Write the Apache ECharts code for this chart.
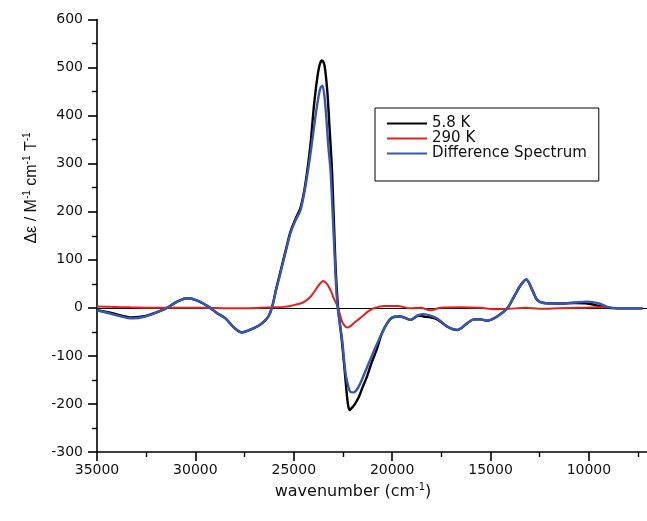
<!DOCTYPE html>
<html>
<head>
<meta charset="utf-8">
<script src="https://cdn.jsdelivr.net/npm/echarts@6/dist/echarts.min.js"></script>
<style>
html,body{margin:0;padding:0;background:#fff;}
#chart{width:647px;height:521px;}
</style>
</head>
<body>
<div id="chart"></div>
<script>
// ---- data (wavenumber in cm^-1, Δε in M^-1 cm^-1 T^-1) ----
const seriesNames = ['5.8 K', '290 K', 'Difference Spectrum'];

const k58Wavenumber = [35000,34320,33220,32540,31690,31440,30970,30420,29900,29320,28930,28470,28070,27660,27300,26860,26530,26290,26100,25880,25680,25420,25170,24910,24660,24410,24150,23980,23800,23670,23560,23440,23300,23190,23050,22880,22750,22540,22370,22250,22160,22070,21920,21700,21510,21270,21050,20760,20540,20250,19980,19570,19070,18660,18390,18050,17710,17200,16690,16180,15850,15500,15160,14660,14150,13810,13470,13180,12880,12620,12290,11440,10760,10080,9490,9060,8550,7710,7280];
const k58Values = [-5,-10,-20,-17,-5,0,12,20,15,2,-10,-22,-40,-51,-47,-39,-29,-18,2,42,75,118,158,185,208,258,340,418,480,508,515,505,453,380,280,90,2,-75,-150,-200,-213,-209,-202,-186,-166,-142,-115,-84,-55,-32,-20,-18,-25,-16,-18,-20,-24,-39,-46,-32,-24,-24,-27,-18,-1,23,47,59,37,16,10,9,10,9,4,0,-1,-1,-1];

const k290Wavenumber = [35000,34320,33310,31780,29750,28220,26690,25930,25510,25070,24660,24410,24150,23900,23730,23510,23360,23220,23080,22970,22850,22760,22680,22540,22420,22290,22120,21950,21710,21440,21200,20930,20420,19740,19070,18560,18050,17540,16520,15500,14830,14070,13220,12540,11520,10510,9490,8960];
const k290Values = [3,2,1,0,0,-1,0,1,2,5,9,14,23,37,47,56,52,44,32,20,10,2,-10,-29,-37,-41,-38,-32,-24,-15,-7,-1,4,4,-1,0,-5,0,1,0,-3,-2,0,-2,-1,0,1,1];

const diffWavenumber = [35000,34320,33220,32540,31690,31440,30970,30420,29900,29320,28930,28470,28070,27660,27300,26860,26530,26290,26100,25880,25680,25420,25170,24910,24660,24410,24150,23900,23740,23640,23540,23390,23240,23130,22970,22790,22540,22370,22220,22120,21960,21700,21270,20760,20250,19980,19570,19070,18660,18390,18050,17710,17200,16690,16180,15850,15500,15160,14660,14150,13810,13470,13180,12880,12620,12290,11440,10760,10080,9490,9060,8550,7710,7280];
const diffValues = [-5,-12,-22,-18,-5,0,12,20,15,2,-10,-22,-40,-51,-47,-39,-29,-18,2,40,72,115,155,182,203,252,321,398,440,458,462,418,335,285,150,9,-67,-136,-165,-175,-176,-164,-123,-74,-32,-20,-18,-25,-15,-13,-16,-22,-39,-46,-32,-24,-24,-27,-18,-1,23,47,59,37,16,10,9,11,13,9,2,-1,-1,-1];

const xAxisMin = 5000, xAxisMax = 35000, xInterval = 5000;
const yAxisMin = -300, yAxisMax = 600, yInterval = 100;

function pairs(xs, ys) { return xs.map((x, i) => [x, ys[i]]); }

const chart = echarts.init(document.getElementById('chart'), null, {renderer: 'canvas'});
const axisFont = 'DejaVu Sans';

chart.setOption({
  animation: false,
  backgroundColor: '#ffffff',
  grid: {left: 97, top: 19.5, width: 590.3, height: 432.5, containLabel: false, outerBoundsMode: 'none'},
  xAxis: {
    type: 'value', inverse: true, min: xAxisMin, max: xAxisMax, interval: xInterval,
    axisLine: {show: true, onZero: false, lineStyle: {color: '#000', width: 1.6}},
    axisTick: {show: true, inside: false, length: 9, lineStyle: {color: '#000', width: 1.6}},
    minorTick: {show: true, splitNumber: 2, length: 5, lineStyle: {color: '#000', width: 1.4}},
    splitLine: {show: false},
    axisLabel: {color: '#111', fontSize: 14, fontFamily: axisFont, margin: 11, formatter: v => String(v)}
  },
  yAxis: {
    type: 'value', min: yAxisMin, max: yAxisMax, interval: yInterval,
    axisLine: {show: true, onZero: false, lineStyle: {color: '#000', width: 1.6}},
    axisTick: {show: true, inside: false, length: 9, lineStyle: {color: '#000', width: 1.6}},
    minorTick: {show: true, splitNumber: 2, length: 5, lineStyle: {color: '#000', width: 1.4}},
    splitLine: {show: false},
    axisLabel: {color: '#111', fontSize: 14, fontFamily: axisFont, margin: 14, formatter: v => String(v)}
  },
  legend: {
    orient: 'vertical', left: 375, top: 108,
    padding: [8, 12, 20, 12], itemGap: 0,
    icon: 'rect', itemWidth: 40, itemHeight: 2,
    borderColor: '#000', borderWidth: 1,
    textStyle: {fontSize: 15, lineHeight: 14, fontFamily: axisFont, color: '#111'},
    data: seriesNames
  },
  graphic: [
    {
      type: 'text', x: 353, y: 492,
      style: {
        text: '{n|wavenumber (cm}{s|-1}{n|)}',
        align: 'center', verticalAlign: 'middle',
        rich: {
          n: {fontSize: 16, lineHeight: 20, fontFamily: axisFont, fill: '#111'},
          s: {fontSize: 10, lineHeight: 10, fontFamily: axisFont, fill: '#111', verticalAlign: 'top'}
        }
      }
    },
    {
      type: 'text', x: 32, y: 188, rotation: Math.PI / 2,
      style: {
        text: '{n|\u0394\u03b5 / M}{s|-1}{n| cm}{s|-1}{n| T}{s|-1}',
        align: 'center', verticalAlign: 'middle',
        rich: {
          n: {fontSize: 16, lineHeight: 20, fontFamily: 'Liberation Sans', fill: '#111'},
          s: {fontSize: 10, lineHeight: 10, fontFamily: 'Liberation Sans', fill: '#111', verticalAlign: 'top'}
        }
      }
    }
  ],
  series: [
    {
      name: seriesNames[0], type: 'line', data: pairs(k58Wavenumber, k58Values),
      showSymbol: false, smooth: 0.3, color: '#000000',
      lineStyle: {color: '#000000', width: 2.4}, z: 2,
      markLine: {
        silent: true, symbol: ['none', 'none'], label: {show: false},
        lineStyle: {color: '#000', width: 1, type: 'solid'},
        data: [{yAxis: 0}], z: 1
      }
    },
    {
      name: seriesNames[1], type: 'line', data: pairs(k290Wavenumber, k290Values),
      showSymbol: false, smooth: 0.3, color: '#e8201c',
      lineStyle: {color: '#e8201c', width: 2}, z: 3
    },
    {
      name: seriesNames[2], type: 'line', data: pairs(diffWavenumber, diffValues),
      showSymbol: false, smooth: 0.3, color: '#3656b4',
      lineStyle: {color: '#3656b4', width: 2.4}, z: 4
    }
  ]
});
</script>
</body>
</html>
